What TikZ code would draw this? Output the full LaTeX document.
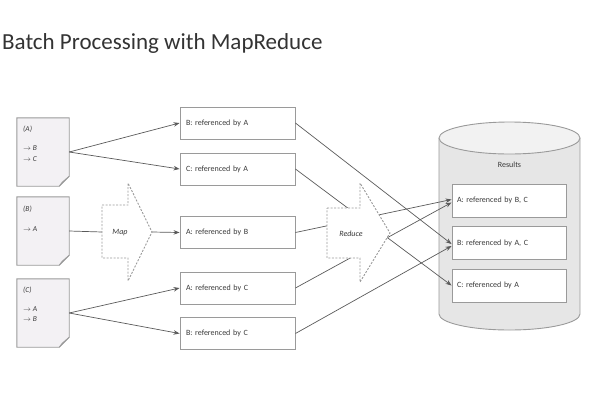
\documentclass[tikz,border=0pt]{standalone}
\usepackage{fontspec}
\setmainfont{Carlito}
\usetikzlibrary{arrows.meta}
\definecolor{docfill}{HTML}{F3F1F4}
\definecolor{bordergray}{HTML}{9A9A9A}
\definecolor{linegray}{HTML}{5A5A5A}
\definecolor{cylfill}{HTML}{E6E6E6}
\definecolor{cyltop}{HTML}{F2F2F2}
\definecolor{txt}{HTML}{3A3A3A}
\definecolor{titlecol}{HTML}{333333}
\begin{document}
\begin{tikzpicture}[x=1pt,y=-1pt,
 box/.style={draw=bordergray, fill=white, line width=0.9pt, minimum width=115pt, minimum height=32pt, inner xsep=6pt, text width=103pt, align=left, font=\fontsize{8}{9.5}\selectfont, text=txt},
 rbox/.style={box, minimum width=114pt, text width=104pt, inner xsep=5pt, minimum height=33pt},
 doc/.style={minimum width=52pt, minimum height=68pt, inner sep=0pt},
 docshape/.style={draw=bordergray, fill=docfill, line width=0.9pt},
 doctxt/.style={anchor=west, font=\fontsize{7.5}{8}\selectfont\itshape, text=txt, inner sep=0pt},
 conn/.style={draw=linegray, line width=0.7pt},
 arr/.style={conn, -{Stealth[length=6pt,width=4.5pt]}},
 bigarrow/.style={draw=bordergray, dash pattern=on 2pt off 1.5pt, line width=0.9pt, fill=white},
 arrlabel/.style={font=\fontsize{8}{9.5}\selectfont\itshape, text=txt}
]
\useasboundingbox (0,0) rectangle (600,400);

% title
\node[anchor=base west, font=\fontsize{23}{26}\selectfont, text=titlecol, inner sep=0pt] (title) at (2,49) {Batch Processing with MapReduce};

% documents
\foreach \n/\y in {docA/152, docB/231, docC/313}{
  \node[doc] (\n) at (43,\y) {};
  \draw[docshape] (\n.north west) -- (\n.north east) -- ([yshift=10pt]\n.south east) -- ([xshift=-10pt]\n.south east) -- (\n.south west) -- cycle;
  \draw[draw=bordergray, fill=white, line width=0.7pt, line join=round] ([yshift=10pt]\n.south east) -- ([xshift=-10pt]\n.south east) -- ([xshift=-7pt,yshift=4pt]\n.south east) -- cycle;
}
\node[doctxt] (tA) at (23,129) {(A)};
\node[doctxt] (tA1) at (23,148) {$\rightarrow$ B};
\node[doctxt] (tA2) at (23,159) {$\rightarrow$ C};
\node[doctxt] (tB) at (23,209) {(B)};
\node[doctxt] (tB1) at (23,229) {$\rightarrow$ A};
\node[doctxt] (tC) at (23,290) {(C)};
\node[doctxt] (tC1) at (23,309) {$\rightarrow$ A};
\node[doctxt] (tC2) at (23,319) {$\rightarrow$ B};

% intermediate boxes
\node[box] (bA) at (237.5,123) {B: referenced by A};
\node[box] (cA) at (237.5,169) {C: referenced by A};
\node[box] (aB) at (237.5,232.5) {A: referenced by B};
\node[box] (aC) at (237.5,288) {A: referenced by C};
\node[box] (bC) at (237.5,333.5) {B: referenced by C};

% results cylinder
\fill[cylfill] (439,138) rectangle (580,314);
\fill[cylfill] (509.5,314) ellipse[x radius=70.5, y radius=16];
\draw[bordergray, line width=0.9pt] (439,138) -- (439,314) arc[start angle=180, end angle=0, x radius=70.5, y radius=16] -- (580,138);
\draw[bordergray, fill=cyltop, line width=0.9pt] (509.5,138) ellipse[x radius=70.5, y radius=16];
\node[font=\fontsize{8}{9.5}\selectfont, text=txt] (results) at (509.5,165) {Results};

\node[rbox] (rA) at (509,200.5) {A: referenced by B, C};
\node[rbox] (rB) at (509,243) {B: referenced by A, C};
\node[rbox] (rC) at (509,285.5) {C: referenced by A};

% map / reduce connection points
\coordinate (mapin) at (102,232);
\coordinate (mapout) at (152,232);

% connectors
\draw[arr] (docA.east) -- (bA.west);
\draw[arr] (docA.east) -- (cA.west);
\draw[conn] (docB.east) -- (mapin);
\draw[arr] (mapout) -- (aB.west);
\draw[arr] (docC.east) -- (aC.west);
\draw[arr] (docC.east) -- (bC.west);

\draw[arr] (bA.east) -- ([yshift=-1pt]rB.west);
\draw[arr] (cA.east) -- (rC.west);
\draw[arr] (aB.east) -- ([yshift=1pt]rA.west);
\draw[arr] (aC.east) -- ([yshift=-2pt]rA.west);
\draw[arr] (bC.east) -- ([yshift=-3pt]rB.west);

% map shape
\draw[bigarrow] (102,205) -- (128,205) -- (128,183) -- (152,232) -- (128,281) -- (128,258) -- (102,258) -- cycle;
\node[arrlabel] (map) at (120,233) {Map};

% reduce shape
\draw[bigarrow] (327,208) -- (360,208) -- (360,183) -- (390,233) -- (360,282) -- (360,258) -- (327,258) -- cycle;
\node[arrlabel] (reduce) at (351,234) {Reduce};
\end{tikzpicture}
\end{document}
